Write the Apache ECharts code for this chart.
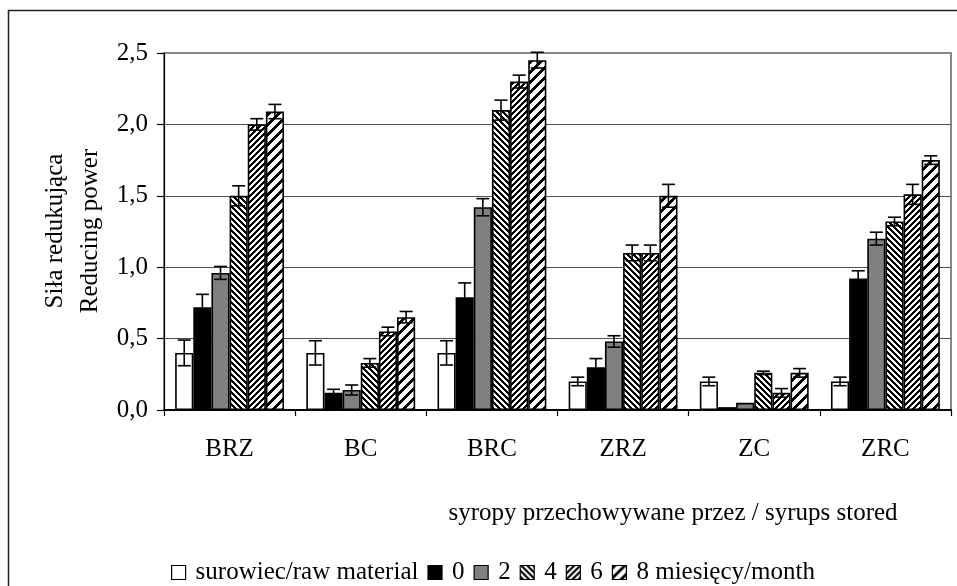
<!DOCTYPE html>
<html>
<head>
<meta charset="utf-8">
<script src="https://cdn.jsdelivr.net/npm/echarts@6/dist/echarts.min.js"></script>
<style>html,body{margin:0;padding:0;background:#fff}#c{width:957px;height:586px}</style>
</head>
<body>
<div id="c"></div>
<script>
var categories = ['BRZ', 'BC', 'BRC', 'ZRZ', 'ZC', 'ZRC'];
var seriesNames = ['surowiec/raw material', '0', '2', '4', '6', '8 miesięcy/month'];
var raw   = [0.40, 0.40, 0.40, 0.20, 0.20, 0.20];
var m0    = [0.72, 0.12, 0.79, 0.30, 0.02, 0.92];
var m2    = [0.96, 0.14, 1.42, 0.48, 0.05, 1.20];
var m4    = [1.50, 0.33, 2.10, 1.10, 0.26, 1.32];
var m6    = [2.00, 0.55, 2.30, 1.10, 0.12, 1.51];
var m8    = [2.09, 0.65, 2.45, 1.50, 0.26, 1.75];
var rawErr = [0.09, 0.085, 0.085, 0.03, 0.03, 0.03];
var m0Err  = [0.09, 0.025, 0.10, 0.06, 0, 0.055];
var m2Err  = [0.045, 0.035, 0.06, 0.04, 0, 0.045];
var m4Err  = [0.07, 0.03, 0.07, 0.055, 0.012, 0.03];
var m6Err  = [0.04, 0.03, 0.045, 0.055, 0.03, 0.07];
var m8Err  = [0.05, 0.04, 0.055, 0.08, 0.03, 0.03];
var yTicks = [0, 0.5, 1.0, 1.5, 2.0, 2.5];

var values = [raw, m0, m2, m4, m6, m8];
var errors = [rawErr, m0Err, m2Err, m4Err, m6Err, m8Err];

function makePattern(size, width, dir) {
  var cv = document.createElement('canvas');
  cv.width = size; cv.height = size;
  var ctx = cv.getContext('2d');
  var img = ctx.createImageData(size, size);
  for (var y = 0; y < size; y++) {
    for (var x = 0; x < size; x++) {
      var k = dir === 'back' ? ((x - y) % size + size) % size : (x + y) % size;
      var on = k < width;
      var i = (y * size + x) * 4;
      var c = on ? 0 : 255;
      img.data[i] = c; img.data[i + 1] = c; img.data[i + 2] = c; img.data[i + 3] = 255;
    }
  }
  ctx.putImageData(img, 0, 0);
  return { image: cv, repeat: 'repeat' };
}

var fills = [
  '#ffffff',
  '#000000',
  '#808080',
  makePattern(6, 3, 'back'),
  makePattern(6, 3, 'fwd'),
  makePattern(10, 4, 'fwd')
];

var FONT = 'Liberation Serif';
var CAT_GAP = 0.17;

var series = [];
values.forEach(function (vals, si) {
  series.push({
    name: seriesNames[si],
    type: 'bar',
    data: vals,
    barGap: '0%',
    barCategoryGap: (CAT_GAP * 100) + '%',
    itemStyle: { color: fills[si], borderColor: '#000', borderWidth: 1.6 },
    emphasis: { disabled: true },
    z: 2
  });
});
values.forEach(function (vals, si) {
  var data = vals.map(function (v, ci) { return [ci, v, errors[si][ci]]; });
  series.push({
    type: 'custom',
    name: 'err' + si,
    data: data,
    z: 5,
    silent: true,
    renderItem: function (params, api) {
      var ci = api.value(0), v = api.value(1), e = api.value(2);
      if (!e) return null;
      var band = api.size([1, 0])[0];
      var usable = band * (1 - CAT_GAP);
      var bw = usable / values.length;
      var c = api.coord([ci, v]);
      var x = c[0] - usable / 2 + bw * (si + 0.5);
      var yTop = api.coord([ci, v + e])[1];
      var yBot = api.coord([ci, Math.max(0, v - e)])[1];
      var cap = 6.5;
      var st = { stroke: '#000', lineWidth: 1.6 };
      return {
        type: 'group',
        children: [
          { type: 'line', shape: { x1: x, y1: yTop, x2: x, y2: yBot }, style: st },
          { type: 'line', shape: { x1: x - cap, y1: yTop, x2: x + cap, y2: yTop }, style: st },
          { type: 'line', shape: { x1: x - cap, y1: yBot, x2: x + cap, y2: yBot }, style: st }
        ]
      };
    }
  });
});

var chart = echarts.init(document.getElementById('c'), null, { renderer: 'canvas' });
chart.setOption({
  backgroundColor: '#ffffff',
  animation: false,
  grid: {
    left: 164, right: 6, top: 53, bottom: 176,
    show: true, borderColor: '#888888', borderWidth: 2, backgroundColor: 'transparent'
  },
  legend: {
    data: seriesNames,
    left: 166, top: 555,
    itemWidth: 14, itemHeight: 14, itemGap: 9,
    icon: 'rect',
    selectedMode: false,
    formatter: function (name) { return '\u2009' + name; },
    itemStyle: { borderColor: '#000', borderWidth: 1.2 },
    textStyle: { fontFamily: FONT, fontSize: 25, color: '#000' }
  },
  xAxis: {
    type: 'category',
    data: categories,
    axisLine: { lineStyle: { color: '#000', width: 2 } },
    axisTick: { show: true, length: 6, lineStyle: { color: '#000', width: 1.2 } },
    axisLabel: { fontFamily: FONT, fontSize: 25, color: '#000', margin: 27 },
    splitLine: { show: false }
  },
  yAxis: {
    type: 'value',
    min: 0, max: 2.5, interval: 0.5,
    axisLine: { show: true, lineStyle: { color: '#000', width: 1.2 } },
    axisTick: { show: true, length: 7, lineStyle: { color: '#000', width: 1.2 } },
    axisLabel: {
      fontFamily: FONT, fontSize: 25, color: '#000', margin: 16,
      formatter: function (v) {
        return yTicks.indexOf(v) >= 0 ? v.toFixed(1).replace('.', ',') : '';
      }
    },
    splitLine: { show: true, showMaxLine: false, lineStyle: { color: '#505050', width: 1 } }
  },
  graphic: [
    {
      type: 'rect', silent: true,
      shape: { x: 8.5, y: 10.5, width: 1200, height: 1200 },
      style: { fill: 'none', stroke: '#222', lineWidth: 1.5 }
    },
    {
      type: 'text', silent: true,
      x: 73, y: 231, rotation: Math.PI / 2,
      style: {
        text: 'Siła redukująca\nReducing power',
        fontFamily: FONT, fontSize: 25, lineHeight: 35,
        fill: '#000', align: 'center', verticalAlign: 'middle'
      }
    },
    {
      type: 'text', silent: true,
      x: 673, y: 513,
      style: {
        text: 'syropy przechowywane przez / syrups stored',
        fontFamily: FONT, fontSize: 25,
        fill: '#000', align: 'center', verticalAlign: 'middle'
      }
    }
  ],
  series: series
});
</script>
</body>
</html>
